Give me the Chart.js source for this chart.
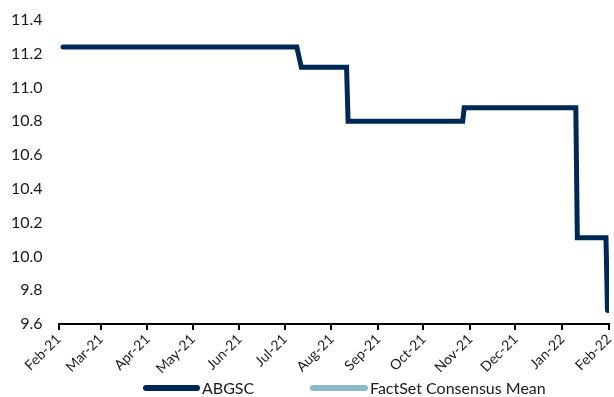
<!DOCTYPE html>
<html>
<head>
<meta charset="utf-8">
<script src="https://cdn.jsdelivr.net/npm/chart.js@4.4.1/dist/chart.umd.min.js"></script>
<style>
  html, body { margin: 0; padding: 0; background: #ffffff; }
  #wrap { width: 614px; height: 397px; position: relative; }
</style>
</head>
<body>
<div id="wrap"><canvas id="chart" width="614" height="397"></canvas></div>
<script>
// Month tick labels along the time axis
const tickLabels = ['Feb-21','Mar-21','Apr-21','May-21','Jun-21','Jul-21','Aug-21','Sep-21','Oct-21','Nov-21','Dec-21','Jan-22','Feb-22'];
const tickDates  = ['2021-02-01','2021-03-01','2021-04-01','2021-05-01','2021-06-01','2021-07-01','2021-08-01','2021-09-01','2021-10-01','2021-11-01','2021-12-01','2022-01-01','2022-02-01'];

// ABGSC estimate history (dates where the value changes)
const abgscDates  = ['2021-02-04','2021-07-09','2021-07-12','2021-08-11','2021-08-12','2021-10-27','2021-10-28','2022-01-10','2022-01-11','2022-01-30','2022-01-31'];
const abgscValues = [11.24, 11.24, 11.12, 11.12, 10.80, 10.80, 10.88, 10.88, 10.11, 10.11, 9.68];

// FactSet consensus mean (no points in this period)
const factsetDates  = [];
const factsetValues = [];

const seriesNames = ['ABGSC', 'FactSet Consensus Mean'];
const seriesColors = ['#002856', '#8db8c9'];

const DAY = 86400000;
const origin = Date.parse(tickDates[0]);
const toDay = d => (Date.parse(d) - origin) / DAY;

const FONT = 'Lato, "Open Sans", sans-serif';

// Legend drawn below the axis labels
const bottomLegend = {
  id: 'bottomLegend',
  afterDraw(chart) {
    const ctx = chart.ctx;
    const y = 388;
    const items = [
      { x: 143, w: 57 },
      { x: 310, w: 58 }
    ];
    ctx.save();
    ctx.font = '16px ' + FONT;
    ctx.textBaseline = 'middle';
    ctx.textAlign = 'left';
    items.forEach((it, i) => {
      ctx.strokeStyle = seriesColors[i];
      ctx.lineWidth = 6;
      ctx.lineCap = 'round';
      ctx.beginPath();
      ctx.moveTo(it.x + 3, y);
      ctx.lineTo(it.x + it.w - 3, y);
      ctx.stroke();
      ctx.fillStyle = '#1a1a1a';
      ctx.fillText(seriesNames[i], it.x + it.w + 2, y + 1);
    });
    ctx.restore();
  }
};

new Chart(document.getElementById('chart'), {
  type: 'line',
  data: {
    datasets: [
      {
        label: seriesNames[0],
        data: abgscDates.map((d, i) => ({ x: toDay(d), y: abgscValues[i] })),
        borderColor: seriesColors[0],
        backgroundColor: seriesColors[0],
        borderWidth: 5,
        borderCapStyle: 'round',
        borderJoinStyle: 'miter',
        pointRadius: 0,
        tension: 0
      },
      {
        label: seriesNames[1],
        data: factsetDates.map((d, i) => ({ x: toDay(d), y: factsetValues[i] })),
        borderColor: seriesColors[1],
        backgroundColor: seriesColors[1],
        borderWidth: 5,
        pointRadius: 0
      }
    ]
  },
  options: {
    responsive: false,
    animation: false,
    events: [],
    layout: { padding: { top: 20, right: 5, bottom: 0, left: 0 } },
    plugins: {
      legend: { display: false },
      tooltip: { enabled: false }
    },
    scales: {
      x: {
        type: 'linear',
        min: toDay(tickDates[0]),
        max: toDay(tickDates[tickDates.length - 1]),
        afterBuildTicks(scale) {
          scale.ticks = tickDates.map(d => ({ value: toDay(d) }));
        },
        afterFit(scale) {
          scale.height = 73;
          scale.paddingLeft = 0;
          scale.paddingRight = 0;
        },
        ticks: {
          autoSkip: false,
          minRotation: 45,
          maxRotation: 45,
          padding: 1,
          color: '#1a1a1a',
          font: { family: FONT, size: 14 },
          callback: (value, index) => tickLabels[index]
        },
        grid: {
          display: true,
          drawOnChartArea: false,
          drawTicks: true,
          tickLength: 6,
          color: '#000000',
          lineWidth: 2
        },
        border: { display: true, color: '#000000', width: 2 }
      },
      y: {
        min: 9.6,
        max: 11.4,
        afterFit(scale) {
          scale.width = 58.5;
          scale.paddingTop = 0;
          scale.paddingBottom = 0;
        },
        ticks: {
          stepSize: 0.2,
          padding: 16,
          color: '#1a1a1a',
          font: { family: FONT, size: 16 },
          callback: v => v.toFixed(1)
        },
        grid: { display: false, drawTicks: false },
        border: { display: false }
      }
    }
  },
  plugins: [bottomLegend]
});
</script>
</body>
</html>
